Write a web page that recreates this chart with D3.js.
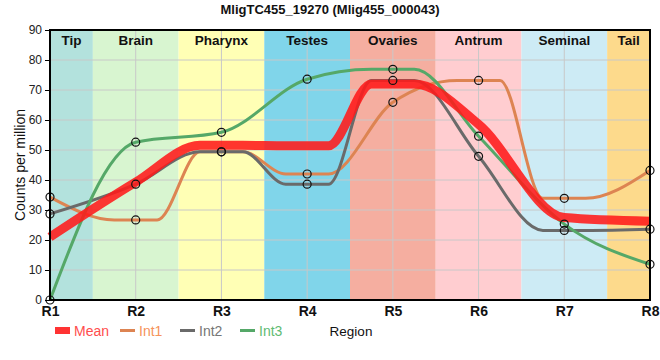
<!DOCTYPE html>
<html><head><meta charset="utf-8">
<script src="https://cdn.jsdelivr.net/npm/d3@7"></script>
<style>body{margin:0;background:#fff}text{font-family:"Liberation Sans",Arial,sans-serif}</style>
</head><body>
<svg id="c" width="660" height="360"></svg>
<script>
const positions = ["R1","R2","R3","R4","R5","R6","R7","R8"];
const regions = ["Tip","Brain","Pharynx","Testes","Ovaries","Antrum","Seminal","Tail"];
const regionColors = ["#b3e2dd","#d8f5d0","#ffffb5","#80d5ea","#f5aea0","#ffcdd0","#cdebf5","#fdda8c"];
const int1 = [34.3, 26.7, 49.4, 42.0, 65.9, 73.2, 33.9, 43.2];
const int2 = [28.7, 38.6, 49.4, 38.6, 73.2, 47.9, 23.2, 23.6];
const int3 = [0.0, 52.6, 55.9, 73.6, 76.9, 54.6, 25.3, 11.9];
const mean = int1.map((v,i)=>(v+int2[i]+int3[i])/3);
const yTicks = [0,10,20,30,40,50,60,70,80,90];
const seriesNames = ["Int1","Int2","Int3"];
const seriesColors = ["#dd8452","#6a6a6a","#55a868"];

// monotone curve that holds local extrema flat for a short stretch
function curvePlateau(frac){
  return function(context){
    const inner = d3.curveMonotoneX(context);
    let pts = [];
    return {
      areaStart(){ inner.areaStart(); },
      areaEnd(){ inner.areaEnd(); },
      lineStart(){ pts = []; },
      point(x,y){ pts.push([+x,+y]); },
      lineEnd(){
        inner.lineStart();
        const n = pts.length;
        pts.forEach((p,i)=>{
          if (i>0 && i<n-1){
            const a = pts[i-1][1], b = p[1], c = pts[i+1][1];
            if ((b-a)*(c-b) <= 0){
              const w1 = (p[0]-pts[i-1][0])*frac, w2 = (pts[i+1][0]-p[0])*frac;
              inner.point(p[0]-w1, b); inner.point(p[0]+w2, b);
              return;
            }
          }
          inner.point(p[0], p[1]);
        });
        inner.lineEnd();
      }
    };
  };
}

const svg = d3.select("#c");
const x = d3.scalePoint().domain(positions).range([50,650]);
const y = d3.scaleLinear().domain([0,90]).range([300,30]);
const step = x.step();

// region bands
const bands = svg.append("g");
regions.forEach((r,i)=>{
  const cx = x(positions[0]) + step*i;
  const x0 = Math.max(50, cx - step/2), x1 = Math.min(650, cx + step/2);
  bands.append("rect").attr("x",x0).attr("y",30).attr("width",x1-x0).attr("height",270).attr("fill",regionColors[i]);
});
// grid
const grid = svg.append("g").attr("stroke","#c8c8c8").attr("stroke-width",1);
yTicks.forEach(t=>grid.append("line").attr("x1",50).attr("x2",650).attr("y1",y(t)).attr("y2",y(t)));
positions.forEach(p=>grid.append("line").attr("x1",x(p)).attr("x2",x(p)).attr("y1",30).attr("y2",300));
// region labels
regions.forEach((r,i)=>{
  const cx = x(positions[0]) + step*i;
  const x0 = Math.max(50, cx - step/2), x1 = Math.min(650, cx + step/2);
  svg.append("text").attr("x",(x0+x1)/2).attr("y",45).attr("text-anchor","middle")
    .attr("font-size",13.5).attr("font-weight","bold").attr("fill","#111").text(r);
});

const line = d3.line().x((d,i)=>x(positions[i])).y(d=>y(d)).curve(curvePlateau(0.25));
[int1,int2,int3].forEach((s,k)=>{
  svg.append("path").attr("d",line(s)).attr("fill","none").attr("stroke",seriesColors[k]).attr("stroke-width",3);
});
svg.append("path").attr("d",line(mean)).attr("fill","none").attr("stroke","#ff1a1a").attr("stroke-opacity",0.88).attr("stroke-width",9);
[int1,int2,int3].forEach((s)=>{
  svg.append("g").selectAll("circle").data(s).join("circle")
    .attr("cx",(d,i)=>x(positions[i])).attr("cy",d=>y(d)).attr("r",4)
    .attr("fill","none").attr("stroke","#111").attr("stroke-width",1.2);
});

// frame
svg.append("rect").attr("x",50).attr("y",30).attr("width",600).attr("height",270)
  .attr("fill","none").attr("stroke","#000").attr("stroke-width",2);

// y axis
const ya = svg.append("g").attr("transform","translate(50,0)")
  .call(d3.axisLeft(y).tickValues(yTicks).tickSize(5).tickSizeOuter(0));
ya.select(".domain").remove();
ya.selectAll("text").attr("font-size",12).attr("fill","#222").attr("font-family","Liberation Sans, Arial, sans-serif");
ya.selectAll("line").attr("stroke","#000");
// x axis
const xa = svg.append("g").attr("transform","translate(0,300)")
  .call(d3.axisBottom(x).tickSize(0).tickPadding(6));
xa.select(".domain").remove();
xa.selectAll("text").attr("font-size",14).attr("font-weight","bold").attr("fill","#111").attr("font-family","Liberation Sans, Arial, sans-serif");

// title
svg.append("text").attr("x",330).attr("y",14).attr("text-anchor","middle").attr("font-size",13).attr("font-weight","bold").attr("fill","#111").text("MligTC455_19270 (Mlig455_000043)");
// y label
svg.append("text").attr("transform","translate(25,165) rotate(-90)").attr("text-anchor","middle").attr("font-size",14).attr("fill","#111").text("Counts per million");
// x label
svg.append("text").attr("x",351).attr("y",336).attr("text-anchor","middle").attr("font-size",13.5).attr("fill","#111").text("Region");

// legend
const leg = svg.append("g");
leg.append("rect").attr("x",55).attr("y",327).attr("width",15).attr("height",7).attr("fill","#ff3333");
leg.append("text").attr("x",74).attr("y",336).attr("font-size",14).attr("fill","#ff4d4d").text("Mean");
seriesNames.forEach((n,k)=>{
  const lx = 120 + k*60;
  leg.append("line").attr("x1",lx).attr("x2",lx+15).attr("y1",330.5).attr("y2",330.5).attr("stroke",seriesColors[k]).attr("stroke-width",3);
  leg.append("text").attr("x",lx+19).attr("y",336).attr("font-size",14).attr("fill",d3.color(seriesColors[k]).brighter(0.3)).text(n);
});
</script>
</body></html>
